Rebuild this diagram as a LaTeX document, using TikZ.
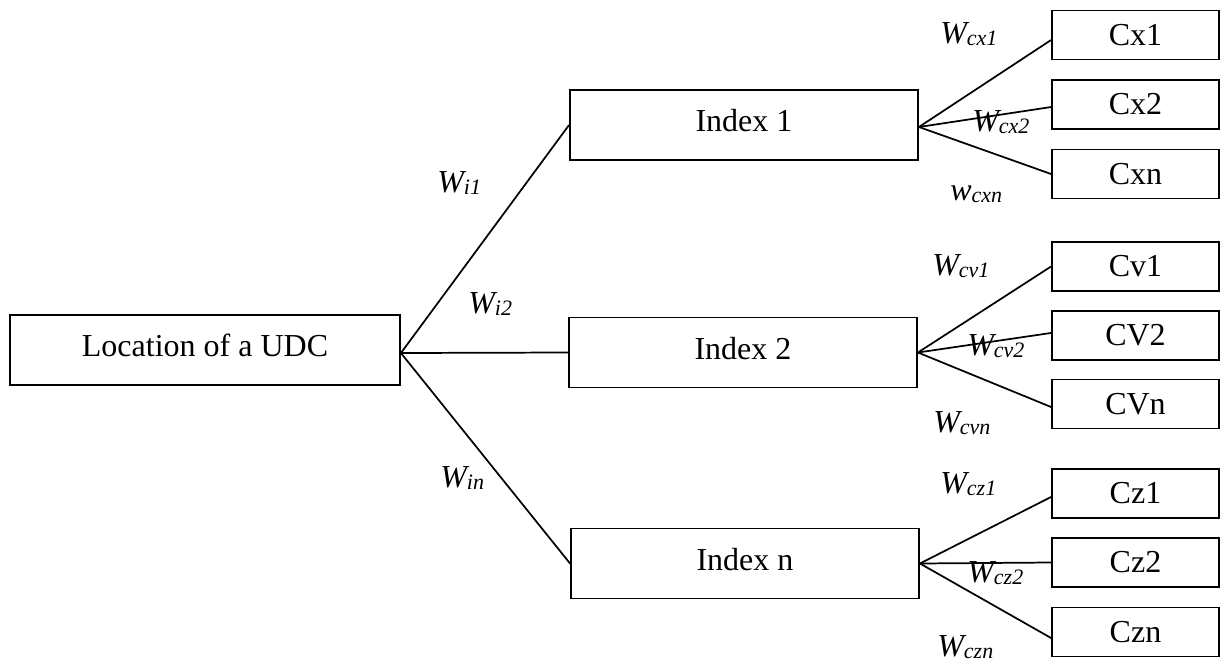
\documentclass[tikz,border=0pt]{standalone}
\usepackage{fontspec}
\setmainfont{Liberation Serif}
\newcommand\wlab[2]{{\itshape #1\raisebox{-1.5pt}{\fontsize{16.5}{16.5}\selectfont #2}}}
\begin{document}
\begin{tikzpicture}[x=0.75pt,y=-0.75pt,
  every node/.style={inner sep=0pt},
  bigbox/.style={draw, line width=1.4pt, minimum height=52.5pt,
    text height=16pt, text depth=6pt, font=\fontsize{24}{28}\selectfont},
  locbox/.style={bigbox, minimum width=292.5pt},
  idxbox/.style={bigbox, minimum width=261pt},
  leafbox/.style={draw, line width=1.4pt, minimum width=125.25pt, minimum height=36.75pt,
    font=\fontsize{24}{28}\selectfont},
  wire/.style={line width=1.3pt},
  wt/.style={anchor=base west, font=\fontsize{24}{28}\selectfont}]
\useasboundingbox (0,0) rectangle (1222,661);

% root and index boxes
\node[locbox] (loc) at (205,350) {Location of a UDC};
\node[idxbox] (i1) at (744,125) {Index 1};
\node[idxbox] (i2) at (743,352.5) {Index 2};
\node[idxbox] (in) at (745,563.5) {Index n};

% leaf boxes
\node[leafbox] (cx1) at (1135.5,35) {Cx1};
\node[leafbox] (cx2) at (1135.5,104.5) {Cx2};
\node[leafbox] (cxn) at (1135.5,174) {Cxn};
\node[leafbox] (cv1) at (1135.5,266.5) {Cv1};
\node[leafbox] (cv2) at (1135.5,335.5) {CV2};
\node[leafbox] (cvn) at (1135.5,404) {CVn};
\node[leafbox] (cz1) at (1135.5,493.5) {Cz1};
\node[leafbox] (cz2) at (1135.5,562.5) {Cz2};
\node[leafbox] (czn) at (1135.5,632) {Czn};

% junction points
\coordinate (j0) at ([yshift=-2.25pt]loc.east);
\coordinate (j1) at ([yshift=-1.5pt]i1.east);
\coordinate (j2) at (i2.east);
\coordinate (jn) at (in.east);

% connectors
\draw[wire] (j0) -- (i1.west);
\draw[wire] (j0) -- (i2.west);
\draw[wire] (j0) -- (in.west);

\draw[wire] (j1) -- ([yshift=-3.75pt]cx1.west);
\draw[wire] (j1) -- ([yshift=-1.9pt]cx2.west);
\draw[wire] (j1) -- (cxn.west);

\draw[wire] (j2) -- (cv1.west);
\draw[wire] (j2) -- ([yshift=1.9pt]cv2.west);
\draw[wire] (j2) -- ([yshift=-2.25pt]cvn.west);

\draw[wire] (jn) -- ([yshift=-2.6pt]cz1.west);
\draw[wire] (jn) -- (cz2.west);
\draw[wire] (jn) -- ([yshift=-4.5pt]czn.west);

% weights
\node[wt] (wi1) at (437,192) {\wlab{W}{i1}};
\node[wt] (wi2) at (468,313) {\wlab{W}{i2}};
\node[wt] (win) at (440,487) {\wlab{W}{in}};

\node[wt] (wcx1) at (940,43) {\wlab{W}{cx1}};
\node[wt] (wcx2) at (972,131) {\wlab{W}{cx2}};
\node[wt] (wcxn) at (950,200) {\wlab{w}{cxn}};

\node[wt] (wcv1) at (932,275) {\wlab{W}{cv1}};
\node[wt] (wcv2) at (967,355) {\wlab{W}{cv2}};
\node[wt] (wcvn) at (933,432) {\wlab{W}{cvn}};

\node[wt] (wcz1) at (940,493) {\wlab{W}{cz1}};
\node[wt] (wcz2) at (967,582) {\wlab{W}{cz2}};
\node[wt] (wczn) at (937,656) {\wlab{W}{czn}};
\end{tikzpicture}
\end{document}
